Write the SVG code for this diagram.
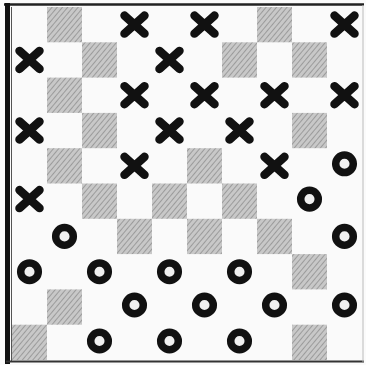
<svg xmlns="http://www.w3.org/2000/svg" width="366" height="365" viewBox="0 0 366 365">
<defs>
<pattern id="hatch" width="4" height="4" patternUnits="userSpaceOnUse" patternTransform="rotate(40)">
<rect width="4" height="4" fill="#c8c8c8"/>
<line x1="0" y1="0" x2="0" y2="4" stroke="#8c8c8c" stroke-width="1.5"/>
</pattern>
<g id="x"><path d="M-10,-9 L10,9 M10,-9 L-10,9" fill="none" stroke="#111" stroke-width="8.5" stroke-linecap="round"/></g>
<g id="o"><circle r="8.8" fill="#f0f0f0" stroke="#111" stroke-width="7.5"/></g>
</defs>
<style>.sq{fill:url(#hatch)}</style>
<rect width="366" height="365" fill="#fbfbfb"/>
<g id="board">
<rect x="12" y="7" width="350" height="353" fill="#fafafa"/>
<g id="shaded">
<rect class="sq" x="47" y="7" width="35" height="35.3"/>
<rect class="sq" x="257" y="7" width="35" height="35.3"/>
<rect class="sq" x="82" y="42.3" width="35" height="35.3"/>
<rect class="sq" x="222" y="42.3" width="35" height="35.3"/>
<rect class="sq" x="292" y="42.3" width="35" height="35.3"/>
<rect class="sq" x="47" y="77.6" width="35" height="35.3"/>
<rect class="sq" x="82" y="112.9" width="35" height="35.3"/>
<rect class="sq" x="292" y="112.9" width="35" height="35.3"/>
<rect class="sq" x="47" y="148.2" width="35" height="35.3"/>
<rect class="sq" x="187" y="148.2" width="35" height="35.3"/>
<rect class="sq" x="82" y="183.5" width="35" height="35.3"/>
<rect class="sq" x="152" y="183.5" width="35" height="35.3"/>
<rect class="sq" x="222" y="183.5" width="35" height="35.3"/>
<rect class="sq" x="117" y="218.8" width="35" height="35.3"/>
<rect class="sq" x="187" y="218.8" width="35" height="35.3"/>
<rect class="sq" x="257" y="218.8" width="35" height="35.3"/>
<rect class="sq" x="292" y="254.1" width="35" height="35.3"/>
<rect class="sq" x="47" y="289.4" width="35" height="35.3"/>
<rect class="sq" x="12" y="324.7" width="35" height="35.3"/>
<rect class="sq" x="292" y="324.7" width="35" height="35.3"/>
</g>
<line x1="4" y1="4.5" x2="364" y2="4.5" stroke="#222" stroke-width="2.5"/>
<line x1="7.5" y1="3" x2="7.5" y2="364" stroke="#111" stroke-width="5"/>
<line x1="11.5" y1="7" x2="11.5" y2="361" stroke="#555" stroke-width="1"/>
<line x1="6" y1="361.5" x2="364" y2="361.5" stroke="#333" stroke-width="2"/>
<line x1="363" y1="5" x2="363" y2="362" stroke="#bbb" stroke-width="1"/>
</g>
<g id="pieces">
<use id="x-r0c3" href="#x" x="134.5" y="24.6"/>
<use id="x-r0c5" href="#x" x="204.5" y="24.6"/>
<use id="x-r0c9" href="#x" x="344.5" y="24.6"/>
<use id="x-r1c0" href="#x" x="29.5" y="59.9"/>
<use id="x-r1c4" href="#x" x="169.5" y="59.9"/>
<use id="x-r2c3" href="#x" x="134.5" y="95.2"/>
<use id="x-r2c5" href="#x" x="204.5" y="95.2"/>
<use id="x-r2c7" href="#x" x="274.5" y="95.2"/>
<use id="x-r2c9" href="#x" x="344.5" y="95.2"/>
<use id="x-r3c0" href="#x" x="29.5" y="130.5"/>
<use id="x-r3c4" href="#x" x="169.5" y="130.5"/>
<use id="x-r3c6" href="#x" x="239.5" y="130.5"/>
<use id="x-r4c3" href="#x" x="134.5" y="165.8"/>
<use id="x-r4c7" href="#x" x="274.5" y="165.8"/>
<use id="o-r4c9" href="#o" x="344.5" y="163.8"/>
<use id="x-r5c0" href="#x" x="29.5" y="199.1"/>
<use id="o-r5c8" href="#o" x="309.5" y="199.1"/>
<use id="o-r6c1" href="#o" x="64.5" y="236.4"/>
<use id="o-r6c9" href="#o" x="344.5" y="236.4"/>
<use id="o-r7c0" href="#o" x="29.5" y="271.7"/>
<use id="o-r7c2" href="#o" x="99.5" y="271.7"/>
<use id="o-r7c4" href="#o" x="169.5" y="271.7"/>
<use id="o-r7c6" href="#o" x="239.5" y="271.7"/>
<use id="o-r8c3" href="#o" x="134.5" y="305"/>
<use id="o-r8c5" href="#o" x="204.5" y="305"/>
<use id="o-r8c7" href="#o" x="274.5" y="305"/>
<use id="o-r8c9" href="#o" x="344.5" y="305"/>
<use id="o-r9c2" href="#o" x="99.5" y="341"/>
<use id="o-r9c4" href="#o" x="169.5" y="341"/>
<use id="o-r9c6" href="#o" x="239.5" y="341"/>
</g>
</svg>
